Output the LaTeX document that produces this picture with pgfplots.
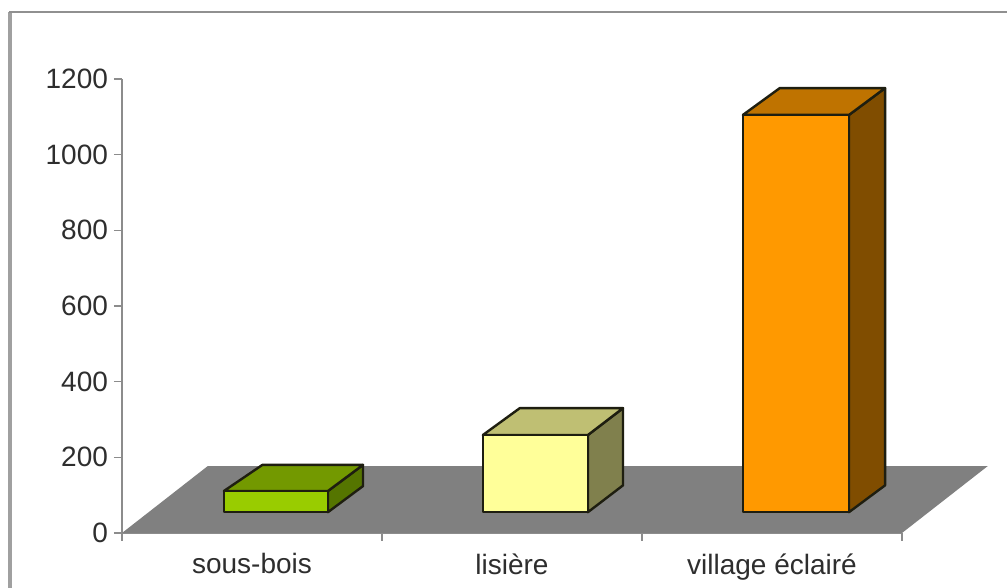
\documentclass[border=0pt]{standalone}
\usepackage{fontspec}
\setmainfont{Liberation Sans}
\usepackage{pgfplots}
\pgfplotsset{compat=1.18}
\definecolor{floorgrey}{HTML}{808080}
\definecolor{axisgrey}{HTML}{8C8C8C}
\definecolor{framegrey}{HTML}{A0A0A0}
\definecolor{edge}{HTML}{1E1E10}
\definecolor{greenF}{HTML}{99CC00}
\definecolor{greenT}{HTML}{739900}
\definecolor{greenS}{HTML}{557500}
\definecolor{yellowF}{HTML}{FFFF99}
\definecolor{yellowT}{HTML}{BFBF73}
\definecolor{yellowS}{HTML}{80804D}
\definecolor{orangeF}{HTML}{FF9900}
\definecolor{orangeT}{HTML}{BF7300}
\definecolor{orangeS}{HTML}{804D00}
\begin{document}
\begin{tikzpicture}[x=0.75pt,y=0.75pt]
\clip (0,0) rectangle (1007,588);
\fill[white] (0,0) rectangle (1007,588);
\draw[framegrey,line width=3pt] (10,-20) -- (10,576);
\draw[framegrey!90!black,line width=1.8pt] (9,576) -- (1030,576);
\begin{axis}[
  at={(91.5pt,41.25pt)},
  anchor=south west,
  scale only axis,
  width=585pt,
  height=340.5pt,
  xmin=0, xmax=3,
  ymin=0, ymax=1200,
  clip=false,
  axis lines*=left,
  axis line style={axisgrey,line width=1.5pt},
  tick style={axisgrey,line width=1pt},
  tick align=outside,
  major tick length=6pt,
  xtick={0,1,2,3},
  x tick label as interval,
  xticklabels={sous-bois,lisière,village éclairé},
  ytick={0,200,400,600,800,1000,1200},
  /pgf/number format/assume math mode=true,
  /pgf/number format/1000 sep={},
  tick label style={font=\fontsize{21}{25}\selectfont,text=black!82},
  xticklabel style={yshift=-6pt},
  yticklabel style={xshift=-1pt},
  every axis plot/.append style={line width=1.8pt,line join=round,draw=edge},
]
% floor
\addplot[fill=floorgrey,draw=none] coordinates {(0,0) (3,0) (3.33,177) (0.33,177)} -- cycle;

% sous-bois
\addplot[fill=greenS] coordinates {(0.792,55) (0.927,124) (0.927,180) (0.792,111)} -- cycle;
\addplot[fill=greenT] coordinates {(0.392,111) (0.792,111) (0.927,180) (0.54,180)} -- cycle;
\addplot[fill=greenF] coordinates {(0.392,55) (0.792,55) (0.792,111) (0.392,111)} -- cycle;

% lisiere
\addplot[fill=yellowS] coordinates {(1.792,55) (1.927,126) (1.927,330) (1.792,259)} -- cycle;
\addplot[fill=yellowT] coordinates {(1.388,259) (1.792,259) (1.927,330) (1.53,330)} -- cycle;
\addplot[fill=yellowF] coordinates {(1.388,55) (1.792,55) (1.792,259) (1.388,259)} -- cycle;

% village eclaire
\addplot[fill=orangeS] coordinates {(2.796,55) (2.935,126) (2.935,1176) (2.796,1105)} -- cycle;
\addplot[fill=orangeT] coordinates {(2.388,1105) (2.796,1105) (2.935,1176) (2.53,1176)} -- cycle;
\addplot[fill=orangeF] coordinates {(2.388,55) (2.796,55) (2.796,1105) (2.388,1105)} -- cycle;
\end{axis}
\end{tikzpicture}
\end{document}
